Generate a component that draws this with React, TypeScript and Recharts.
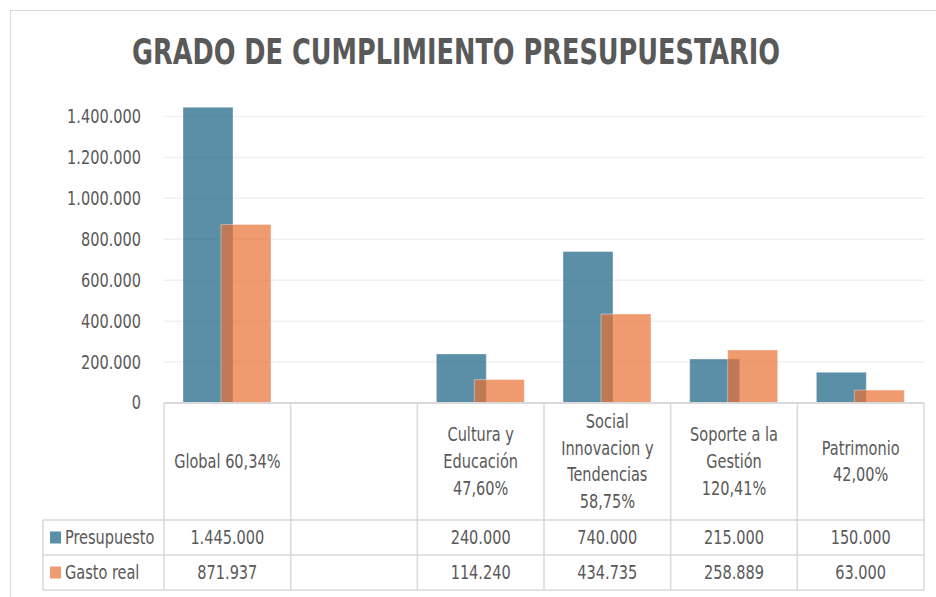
import React from "react";
import { BarChart, Bar, XAxis, YAxis, CartesianGrid } from "recharts";

const categories = [
  "Global 60,34%",
  "",
  "Cultura y\nEducación\n47,60%",
  "Social\nInnovacion y\nTendencias\n58,75%",
  "Soporte a la\nGestión\n120,41%",
  "Patrimonio\n42,00%",
];
const presupuesto: (number | null)[] = [1445000, null, 240000, 740000, 215000, 150000];
const gastoReal: (number | null)[] = [871937, null, 114240, 434735, 258889, 63000];
const seriesNames = ["Presupuesto", "Gasto real"];
const yTicks = [0, 200000, 400000, 600000, 800000, 1000000, 1200000, 1400000];
const title = "GRADO DE CUMPLIMIENTO PRESUPUESTARIO";

const data = categories.map((c, i) => ({
  cat: c,
  presupuesto: presupuesto[i],
  gasto: gastoReal[i],
}));

const FONT = "'Liberation Sans Narrow', 'Arial Narrow', 'DejaVu Sans Condensed', sans-serif";
const TEXT = "#595959";
const LINE = "#d9d9d9";
const BLUE = "#156082";
const ORANGE = "#E97132";
const SX = 0.85;
const FS = 19;

const W = 936;
const H = 597;
const PLOT_LEFT = 164;
const PLOT_RIGHT = 924;
const AXIS_Y = 403;
const HEADER_BOTTOM = 520;
const ROW1_BOTTOM = 555;
const ROW2_BOTTOM = 590;
const LEGEND_LEFT = 43;
const COL_W = (PLOT_RIGHT - PLOT_LEFT) / categories.length;
const LINE_H = 26.7;

const fmt = (n: number | null) =>
  n == null ? "" : String(n).replace(/\B(?=(\d{3})+(?!\d))/g, ".");

function NText({ x, y, anchor = "middle", children }: any) {
  return (
    <g transform={`translate(${x},${y})`}>
      <text
        transform={`scale(${SX},1)`}
        x={0}
        y={0}
        textAnchor={anchor}
        dominantBaseline="central"
        style={{ fontFamily: FONT, fontSize: FS, fill: TEXT }}
      >
        {children}
      </text>
    </g>
  );
}

function YTick(props: any) {
  const { x, y, payload } = props;
  return <NText x={x} y={y} anchor="end">{fmt(payload.value)}</NText>;
}

function TableTick(props: any) {
  const { x, index } = props;
  const i = index as number;
  const left = x - COL_W / 2;
  const right = x + COL_W / 2;
  const lines = categories[i] ? categories[i].split("\n") : [];
  const headerMid = (AXIS_Y + HEADER_BOTTOM) / 2;
  const firstY = headerMid - ((lines.length - 1) * LINE_H) / 2;
  const row1Mid = (HEADER_BOTTOM + ROW1_BOTTOM) / 2;
  const row2Mid = (ROW1_BOTTOM + ROW2_BOTTOM) / 2;
  return (
    <g>
      <line x1={left} x2={left} y1={AXIS_Y} y2={ROW2_BOTTOM} stroke={LINE} strokeWidth={1.5} />
      {i === categories.length - 1 && (
        <line x1={right} x2={right} y1={AXIS_Y} y2={ROW2_BOTTOM} stroke={LINE} strokeWidth={1.5} />
      )}
      <line x1={left} x2={right} y1={HEADER_BOTTOM} y2={HEADER_BOTTOM} stroke={LINE} strokeWidth={1.5} />
      <line x1={left} x2={right} y1={ROW1_BOTTOM} y2={ROW1_BOTTOM} stroke={LINE} strokeWidth={1.5} />
      <line x1={left} x2={right} y1={ROW2_BOTTOM} y2={ROW2_BOTTOM} stroke={LINE} strokeWidth={1.5} />
      {lines.map((l, k) => (
        <NText key={k} x={x} y={firstY + k * LINE_H}>
          {l}
        </NText>
      ))}
      <NText x={x} y={row1Mid}>{fmt(presupuesto[i])}</NText>
      <NText x={x} y={row2Mid}>{fmt(gastoReal[i])}</NText>
      {i === 0 && (
        <g>
          <line x1={LEGEND_LEFT} x2={left} y1={HEADER_BOTTOM} y2={HEADER_BOTTOM} stroke={LINE} strokeWidth={1.5} />
          <line x1={LEGEND_LEFT} x2={left} y1={ROW1_BOTTOM} y2={ROW1_BOTTOM} stroke={LINE} strokeWidth={1.5} />
          <line x1={LEGEND_LEFT} x2={left} y1={ROW2_BOTTOM} y2={ROW2_BOTTOM} stroke={LINE} strokeWidth={1.5} />
          <line x1={LEGEND_LEFT} x2={LEGEND_LEFT} y1={HEADER_BOTTOM} y2={ROW2_BOTTOM} stroke={LINE} strokeWidth={1.5} />
          <rect x={50} y={row1Mid - 6} width={11} height={12} fill={BLUE} fillOpacity={0.7} />
          <rect x={50} y={row2Mid - 6} width={11} height={12} fill={ORANGE} fillOpacity={0.7} />
          <NText x={65} y={row1Mid} anchor="start">{seriesNames[0]}</NText>
          <NText x={65} y={row2Mid} anchor="start">{seriesNames[1]}</NText>
        </g>
      )}
    </g>
  );
}

export default function App() {
  return (
    <div
      style={{
        position: "fixed",
        left: 0,
        top: 0,
        width: W,
        height: H,
        overflow: "hidden",
        background: "#fff",
      }}
    >
      <div
        style={{
          position: "absolute",
          left: 10,
          top: 10,
          width: 1200,
          height: 1200,
          borderLeft: `1.5px solid ${LINE}`,
          borderTop: `1.5px solid ${LINE}`,
        }}
      />
      <svg width={W} height={90} style={{ position: "absolute", left: 0, top: 0 }}>
        <text
          x={456}
          y={64}
          textAnchor="middle"
          textLength={648}
          lengthAdjust="spacingAndGlyphs"
          style={{ fontFamily: FONT, fontSize: 36, fontWeight: 700, fill: TEXT }}
        >
          {title}
        </text>
      </svg>
      <div style={{ position: "absolute", left: 0, top: 0 }}>
        <BarChart
          width={W}
          height={H}
          data={data}
          margin={{ top: 96, right: W - PLOT_RIGHT, bottom: 0, left: 0 }}
          barSize={50}
          barGap={-12}
        >
          <CartesianGrid vertical={false} stroke="#f0f0f0" strokeWidth={1.5} syncWithTicks />
          <XAxis
            dataKey="cat"
            interval={0}
            height={H - AXIS_Y}
            tickLine={false}
            tickSize={0}
            tickMargin={0}
            axisLine={{ stroke: LINE, strokeWidth: 2 }}
            tick={<TableTick />}
          />
          <YAxis
            width={PLOT_LEFT}
            domain={[0, 1500000]}
            ticks={yTicks}
            axisLine={false}
            tickLine={false}
            tickSize={0}
            tickMargin={23}
            tick={<YTick />}
          />
          <Bar
            dataKey="presupuesto"
            name={seriesNames[0]}
            fill={BLUE}
            fillOpacity={0.7}
            stroke="#ffffff"
            strokeOpacity={0.5}
            strokeWidth={0.75}
            isAnimationActive={false}
          />
          <Bar
            dataKey="gasto"
            name={seriesNames[1]}
            fill={ORANGE}
            fillOpacity={0.7}
            stroke="#ffffff"
            strokeOpacity={0.5}
            strokeWidth={0.75}
            isAnimationActive={false}
          />
        </BarChart>
      </div>
    </div>
  );
}
